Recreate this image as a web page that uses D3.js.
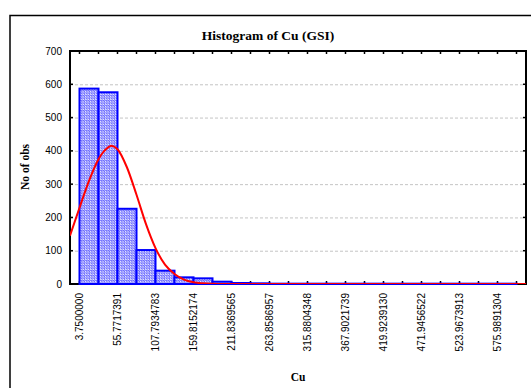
<!DOCTYPE html>
<html><head><meta charset="utf-8">
<script src="https://cdn.jsdelivr.net/npm/d3@7"></script>
<style>body{margin:0;background:#fff}svg{display:block}</style>
</head><body><svg id="c" width="531" height="388"></svg>
<script>
// ---- data ----
const binStart = 3.75;
const binWidth = 26.0108696;
const counts = [587, 576, 226, 102, 40, 20, 17, 7, 3, 2, 1, 1, 1, 1, 1, 1, 1, 1, 1, 1, 1, 1, 1];
const xTickLabels = ["3.7500000","55.7717391","107.7934783","159.8152174","211.8369565","263.8586957","315.8804348","367.9021739","419.9239130","471.9456522","523.9673913","575.9891304"];
const yTicks = [0, 100, 200, 300, 400, 500, 600, 700];
const curveX = [-9.26, 3.75, 16.76, 29.76, 42.77, 47.2, 55.77, 68.78, 81.78, 94.79, 107.79, 120.8, 133.8, 146.8, 159.8, 172.8, 185.8, 198.8, 250, 615];
const curveY = [145, 229, 310, 375, 410, 415, 405, 350, 268, 180, 108, 58, 30, 13, 5, 2, 0.6, 0, 0, 0];
const title = "Histogram of Cu (GSI)";
const xTitle = "Cu";
const yTitle = "No of obs";

// ---- layout ----
const L = 70, R = 526, T = 51, B = 284;
const svg = d3.select("#c");
const x = d3.scaleLinear().domain([binStart - 0.5 * binWidth, binStart + 23.5 * binWidth]).range([L, R]);
const y = d3.scaleLinear().domain([0, 700]).range([B, T]);

// outer frame
svg.append("rect").attr("x", 10).attr("y", 15.5).attr("width", 540).attr("height", 400)
  .attr("fill", "none").attr("stroke", "#000").attr("stroke-width", 1.5);

// hatch pattern
const defs = svg.append("defs");
const pat = defs.append("pattern").attr("id", "hatch").attr("patternUnits", "userSpaceOnUse")
  .attr("width", 2.5).attr("height", 2.5);
pat.append("rect").attr("width", 2.5).attr("height", 2.5).attr("fill", "#ffffff");
pat.append("path").attr("d", "M-1,-1.5 l5,5 M-2.5,0 l5,5 M0,-2.5 l5,5")
  .attr("stroke", "#4848ff").attr("stroke-width", 1);
defs.append("clipPath").attr("id", "clip").append("rect")
  .attr("x", L).attr("y", T).attr("width", R - L).attr("height", B - T);

// grid
svg.append("g").selectAll("line").data(yTicks.filter(v => v > 0 && v < 700)).join("line")
  .attr("x1", L).attr("x2", R).attr("y1", d => y(d) + 0.5).attr("y2", d => y(d) + 0.5)
  .attr("stroke", "#c4c4c4").attr("stroke-width", 1).attr("stroke-dasharray", "3,2");

// plot frame
svg.append("rect").attr("x", L).attr("y", T).attr("width", R - L).attr("height", B - T)
  .attr("fill", "none").attr("stroke", "#000").attr("stroke-width", 2);

// ticks
const tickIdx = d3.range(0, 24);
const xt = tickIdx.map(k => binStart + k * binWidth);
svg.append("g").selectAll("line").data(xt).join("line")
  .attr("x1", d => x(d)).attr("x2", d => x(d)).attr("y1", T).attr("y2", T + 3)
  .attr("stroke", "#000").attr("stroke-width", 1.5);
svg.append("g").selectAll("line").data(xt).join("line")
  .attr("x1", d => x(d)).attr("x2", d => x(d)).attr("y1", B).attr("y2", B - 3)
  .attr("stroke", "#000").attr("stroke-width", 1.5);
svg.append("g").selectAll("line").data(yTicks).join("line")
  .attr("x1", L).attr("x2", L + 3).attr("y1", d => y(d)).attr("y2", d => y(d))
  .attr("stroke", "#000").attr("stroke-width", 1.5);
svg.append("g").selectAll("line").data(yTicks).join("line")
  .attr("x1", R).attr("x2", R - 3).attr("y1", d => y(d)).attr("y2", d => y(d))
  .attr("stroke", "#000").attr("stroke-width", 1.5);

// bars
svg.append("g").selectAll("rect").data(counts).join("rect")
  .attr("x", (d, i) => x(binStart + i * binWidth))
  .attr("width", (d, i) => x(binStart + (i + 1) * binWidth) - x(binStart + i * binWidth))
  .attr("y", d => y(d))
  .attr("height", d => B - y(d))
  .attr("fill", "url(#hatch)").attr("stroke", "#0000ff").attr("stroke-width", 2);

// normal curve
const pts = curveX.map((v, i) => [v, curveY[i]]);
svg.append("path").datum(pts)
  .attr("clip-path", "url(#clip)")
  .attr("d", d3.line().x(d => x(d[0])).y(d => y(d[1])).curve(d3.curveMonotoneX))
  .attr("fill", "none").attr("stroke", "#ff0000").attr("stroke-width", 2);

// y tick labels
svg.append("g").selectAll("text").data(yTicks).join("text")
  .attr("x", 62).attr("y", d => y(d)).attr("dy", "0.35em")
  .attr("text-anchor", "end").attr("font-family", "Liberation Sans, Arial, sans-serif")
  .attr("font-size", 10).text(d => d);

// x tick labels
svg.append("g").selectAll("text").data(xTickLabels).join("text")
  .attr("transform", (d, i) => `translate(${x(binStart + 2 * i * binWidth)},293) rotate(-90)`)
  .attr("dy", "0.35em").attr("text-anchor", "end")
  .attr("font-family", "Liberation Sans, Arial, sans-serif").attr("font-size", 10)
  .text(d => d);

// titles
svg.append("text").attr("x", 268).attr("y", 40).attr("text-anchor", "middle")
  .attr("font-family", "Liberation Serif, Times New Roman, serif").attr("font-weight", "bold")
  .attr("font-size", 13.5).text(title);
svg.append("text").attr("x", (L + R) / 2).attr("y", 381).attr("text-anchor", "middle")
  .attr("font-family", "Liberation Serif, Times New Roman, serif").attr("font-weight", "bold")
  .attr("font-size", 11.5).text(xTitle);
svg.append("text").attr("transform", "translate(29,167) rotate(-90)").attr("text-anchor", "middle")
  .attr("font-family", "Liberation Serif, Times New Roman, serif").attr("font-weight", "bold")
  .attr("font-size", 11.5).text(yTitle);
</script></body></html>
